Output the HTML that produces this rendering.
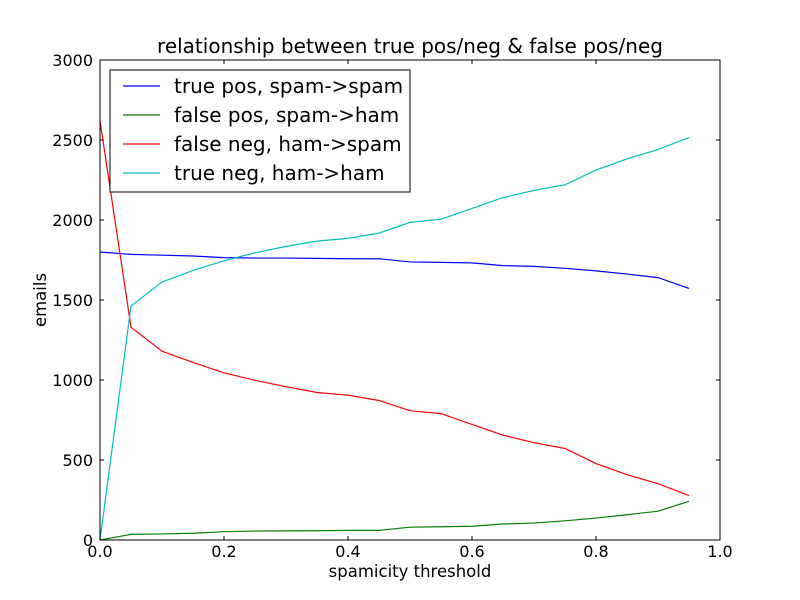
<!DOCTYPE html>
<html><head><meta charset="utf-8"><style>
body{margin:0;background:#fff}
svg{display:block;font-family:"DejaVu Sans","Liberation Sans",sans-serif}
</style></head><body>
<svg id="chart" width="800" height="600">
<rect x="0" y="0" width="800" height="600" fill="#fff"/>
<text x="410" y="53" text-anchor="middle" font-size="20">relationship between true pos/neg &amp; false pos/neg</text>
<text x="410" y="577" text-anchor="middle" font-size="16.5">spamicity threshold</text>
<text transform="translate(46,300) rotate(-90)" text-anchor="middle" font-size="16.5">emails</text>
<g id="ticks"></g>
<g id="series"></g>
<rect x="100" y="60" width="620" height="480" fill="none" stroke="#000" stroke-width="1"/>
<g id="legend"></g>
</svg>
<script>
const thresholds=[0,0.05,0.1,0.15,0.2,0.25,0.3,0.35,0.4,0.45,0.5,0.55,0.6,0.65,0.7,0.75,0.8,0.85,0.9,0.95];
const truePos=[1800,1785,1780,1775,1765,1762,1762,1760,1758,1758,1738,1735,1732,1715,1710,1698,1682,1662,1640,1572];
const falsePos=[0,35,38,42,52,56,57,58,60,60,80,83,86,100,106,120,137,158,180,242];
const falseNeg=[2620,1330,1180,1110,1045,998,958,922,905,872,808,790,722,655,608,572,478,408,352,278];
const trueNeg=[0,1462,1612,1685,1745,1795,1835,1868,1885,1918,1985,2005,2072,2140,2185,2220,2312,2382,2440,2515];
const xTicks=["0.0","0.2","0.4","0.6","0.8","1.0"];
const yTicks=["0","500","1000","1500","2000","2500","3000"];
const seriesNames=["true pos, spam->spam","false pos, spam->ham","false neg, ham->spam","true neg, ham->ham"];
const NS="http://www.w3.org/2000/svg";
const X=v=>100+v*620, Y=v=>540-v/3000*480;
function mk(t,a,p){const e=document.createElementNS(NS,t);for(const k in a)e.setAttribute(k,a[k]);p.appendChild(e);return e;}
const tg=document.getElementById('ticks');
xTicks.forEach(t=>{const x=X(+t);
 mk('line',{x1:x,x2:x,y1:540,y2:536,stroke:'#000'},tg);
 mk('line',{x1:x,x2:x,y1:60,y2:64,stroke:'#000'},tg);
 const e=mk('text',{x:x,y:557,'text-anchor':'middle','font-size':16},tg);e.textContent=t;
 
 });
yTicks.forEach(t=>{const y=Y(+t);
 mk('line',{x1:100,x2:104,y1:y,y2:y,stroke:'#000'},tg);
 mk('line',{x1:720,x2:716,y1:y,y2:y,stroke:'#000'},tg);
 const e=mk('text',{x:93,y:y+6,'text-anchor':'end','font-size':16},tg);e.textContent=t;
 
 });
const data=[truePos,falsePos,falseNeg,trueNeg], cols=['#0000ff','#008000','#ff0000','#00bfbf'], names=['true-pos-line','false-pos-line','false-neg-line','true-neg-line'];
const sg=document.getElementById('series');
data.forEach((d,i)=>{const p=mk('polyline',{points:d.map((v,j)=>X(thresholds[j])+','+Y(v)).join(' '),fill:'none',stroke:cols[i],'stroke-width':1.2},sg);
 
 });
const lg=document.getElementById('legend');
mk('rect',{x:110,y:70,width:300,height:122,fill:'#fff',stroke:'#000'},lg);
seriesNames.forEach((n,i)=>{const y=86+i*29;
 mk('line',{x1:123,x2:160,y1:y,y2:y,stroke:cols[i],'stroke-width':1.2},lg);
 const t=mk('text',{x:174,y:y+7,'font-size':20},lg);t.textContent=n;
 
 });
</script>
</body></html>
